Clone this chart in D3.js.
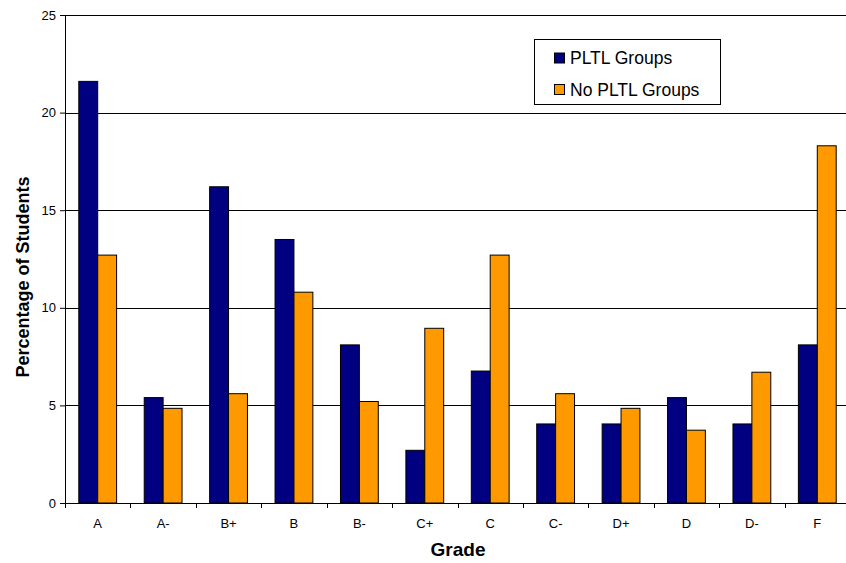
<!DOCTYPE html>
<html>
<head>
<meta charset="utf-8">
<script src="https://cdn.jsdelivr.net/npm/d3@7"></script>
<style>
  body { margin: 0; background: #fff; }
  svg { display: block; font-family: "Liberation Sans", Arial, sans-serif; }
</style>
</head>
<body>
<svg id="chart"></svg>
<script>
const grades = ["A", "A-", "B+", "B", "B-", "C+", "C", "C-", "D+", "D", "D-", "F"];
const seriesNames = ["PLTL Groups", "No PLTL Groups"];
const pltl = [21.6, 5.4, 16.2, 13.5, 8.1, 2.7, 6.76, 4.05, 4.05, 5.4, 4.05, 8.1];
const noPltl = [12.7, 4.85, 5.6, 10.8, 5.2, 8.95, 12.7, 5.6, 4.85, 3.73, 6.7, 18.3];
const yTicks = [0, 5, 10, 15, 20, 25];

const colors = ["#000080", "#ff9900"];
const width = 846, height = 563;
const margin = { top: 15, left: 65 };
const plotW = 785, plotH = 488;

const svg = d3.select("#chart").attr("width", width).attr("height", height);
const g = svg.append("g").attr("transform", `translate(${margin.left},${margin.top})`);

const x = d3.scaleBand().domain(grades).range([0, plotW]);
const x1 = d3.scaleBand().domain(seriesNames).range([13.8, x.bandwidth() - 13.8]);
const y = d3.scaleLinear().domain([0, 25]).range([plotH, 0]);

// gridlines
g.selectAll(".grid")
  .data(yTicks.filter(d => d > 0))
  .enter()
  .append("line")
  .attr("x1", 0).attr("x2", plotW)
  .attr("y1", d => Math.round(y(d)) + 0.5)
  .attr("y2", d => Math.round(y(d)) + 0.5)
  .attr("stroke", "#000").attr("stroke-width", 1);

const rows = grades.map((gr, i) => ({ grade: gr, values: [pltl[i], noPltl[i]] }));

const groups = g.selectAll(".grp")
  .data(rows)
  .enter()
  .append("g")
  .attr("transform", d => `translate(${x(d.grade)},0)`);

groups.selectAll("rect")
  .data(d => d.values.map((v, k) => ({ key: seriesNames[k], value: v, k })))
  .enter()
  .append("rect")
  .attr("x", d => x1(d.key))
  .attr("width", x1.bandwidth())
  .attr("y", d => y(d.value))
  .attr("height", d => plotH - y(d.value))
  .attr("fill", d => colors[d.k])
  .attr("stroke", "#000").attr("stroke-width", 1);

// y axis
const yAxis = g.append("g")
  .call(d3.axisLeft(y).tickValues(yTicks).tickSize(5).tickPadding(4));
yAxis.selectAll("text").style("font-size", "13px").attr("fill", "#000");
yAxis.select(".domain").attr("stroke", "#000");

// x axis with ticks at category boundaries
const xAxis = g.append("g").attr("transform", `translate(0,${plotH})`);
xAxis.append("line").attr("x1", 0).attr("x2", plotW).attr("y1", 0.5).attr("y2", 0.5).attr("stroke", "#000");
xAxis.selectAll(".xt")
  .data(grades)
  .enter()
  .append("line")
  .attr("x1", d => Math.round(x(d)) + 0.5).attr("x2", d => Math.round(x(d)) + 0.5)
  .attr("y1", 0).attr("y2", 5)
  .attr("stroke", "#000");
xAxis.selectAll(".xl")
  .data(grades)
  .enter()
  .append("text")
  .attr("x", d => x(d) + x.bandwidth() / 2)
  .attr("y", 24.5)
  .attr("text-anchor", "middle")
  .style("font-size", "13px")
  .text(d => d);

// axis titles
svg.append("text")
  .attr("transform", "translate(29,277) rotate(-90)")
  .attr("text-anchor", "middle")
  .style("font-size", "18px").style("font-weight", "bold")
  .text("Percentage of Students");

svg.append("text")
  .attr("x", 458).attr("y", 556)
  .attr("text-anchor", "middle")
  .style("font-size", "19px").style("font-weight", "bold")
  .text("Grade");

// legend
const legend = svg.append("g").attr("transform", "translate(534.5,39.5)");
legend.append("rect").attr("width", 186).attr("height", 65)
  .attr("fill", "#fff").attr("stroke", "#000");
seriesNames.forEach((name, i) => {
  const ly = 18.5 + i * 31.5;
  legend.append("rect").attr("x", 20).attr("y", ly - 5).attr("width", 10).attr("height", 10)
    .attr("fill", colors[i]).attr("stroke", "#000");
  legend.append("text").attr("x", 35.5).attr("y", ly + 6)
    .style("font-size", "17.5px").text(name);
});
</script>
</body>
</html>
